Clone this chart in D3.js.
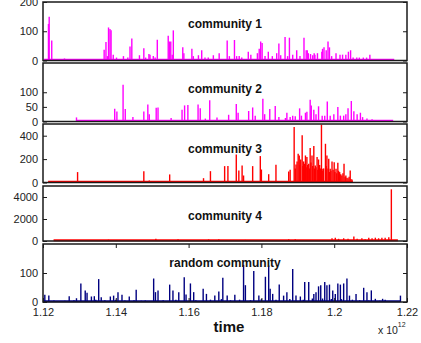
<!DOCTYPE html>
<html>
<head>
<meta charset="utf-8">
<script src="https://cdn.jsdelivr.net/npm/d3@7/dist/d3.min.js"></script>
<style>
  body { margin: 0; background: #fff; }
  svg { display: block; }
  text { font-family: Arial, "Liberation Sans", sans-serif; }
</style>
</head>
<body>
<div id="chart"></div>
<script>
// time axis is in units of 10^12
const xTicks = [1.12, 1.14, 1.16, 1.18, 1.20, 1.22];
const titles = ['community 1', 'community 2', 'community 3', 'community 4', 'random community'];
const yMax = [200, 200, 500, 5000, 200];
const yTicks = [[0, 100, 200], [0, 50, 100], [0, 200, 400], [0, 2000, 4000], [0, 100]];
// first and last time stamp of each series (drawn as the zero line)
const spans = [[1.1203, 1.2165], [1.1292, 1.2162], [1.1214, 1.2051], [1.1229, 1.2175], [1.1200, 1.2182]];

// [time, count]
const community1 = [
  [1.1215,125],[1.1217,150],[1.1224,68],[1.1259,7],[1.1270,4],[1.1294,3],
  [1.1368,37],[1.1373,63],[1.1377,15],[1.1380,113],[1.1384,108],[1.1387,103],[1.1393,20],[1.1402,10],
  [1.1421,15],[1.1433,10],[1.1439,48],[1.1444,75],[1.1453,5],[1.1465,18],[1.1477,42],[1.1482,10],
  [1.1491,22],[1.1494,20],[1.1503,15],[1.1508,10],[1.1514,71],[1.1521,5],[1.1544,85],[1.1547,65],
  [1.1551,65],[1.1555,20],[1.1558,103],[1.1572,5],[1.1584,45],[1.1587,25],[1.1609,40],[1.1613,15],
  [1.1627,18],[1.1636,35],[1.1645,10],[1.1654,10],[1.1668,18],[1.1684,25],[1.1706,68],[1.1712,15],
  [1.1726,70],[1.1732,15],[1.1739,15],[1.1746,10],[1.1764,30],[1.1771,20],[1.1789,25],[1.1794,40],
  [1.1798,65],[1.1802,60],[1.1810,15],[1.1819,30],[1.1830,15],[1.1842,25],[1.1848,58],[1.1853,18],
  [1.1865,80],[1.1872,15],[1.1877,78],[1.1886,20],[1.1897,35],[1.1906,15],[1.1917,78],[1.1923,35],
  [1.1926,35],[1.1929,25],[1.1935,22],[1.1941,18],[1.1945,25],[1.1947,20],[1.1954,25],[1.1966,30],
  [1.1968,40],[1.1972,45],[1.1978,35],[1.1983,65],[1.1987,45],[1.1993,15],[1.2005,25],[1.2016,20],
  [1.2023,20],[1.2032,20],[1.2039,30],[1.2045,35],[1.2052,10],[1.2062,10],[1.2069,10],[1.2080,10],
  [1.2089,10],[1.2098,20],[1.2112,3],[1.2133,3],[1.2153,3],[1.2162,2]
];
const community2 = [
  [1.1292,14],[1.1371,3],[1.1397,44],[1.1403,34],[1.1420,126],[1.1426,43],[1.1447,15],[1.1477,34],
  [1.1488,58],[1.1492,25],[1.1511,47],[1.1516,48],[1.1552,12],[1.1582,40],[1.1589,55],[1.1598,56],
  [1.1626,58],[1.1632,45],[1.1646,10],[1.1658,73],[1.1678,14],[1.1710,23],[1.1731,60],[1.1736,30],
  [1.1765,36],[1.1776,48],[1.1783,20],[1.1804,78],[1.1809,25],[1.1823,43],[1.1838,53],[1.1848,15],
  [1.1866,12],[1.1870,30],[1.1879,15],[1.1886,20],[1.1893,18],[1.1905,45],[1.1910,20],[1.1921,30],
  [1.1925,33],[1.1934,74],[1.1937,55],[1.1944,40],[1.1950,25],[1.1957,52],[1.1967,20],[1.1974,20],
  [1.1981,68],[1.1989,20],[1.1999,25],[1.2010,50],[1.2017,20],[1.2026,20],[1.2032,25],[1.2038,45],
  [1.2047,70],[1.2054,35],[1.2063,25],[1.2072,30],[1.2078,15],[1.2090,10],[1.2104,8],[1.2118,5]
];
const community3 = [
  [1.1295,89],[1.1435,5],[1.1477,97],[1.1492,17],[1.1548,69],[1.1641,37],[1.1660,97],[1.1699,140],
  [1.1708,140],[1.1731,240],[1.1738,103],[1.1747,146],[1.1751,60],[1.1776,140],[1.1797,226],[1.1800,111],
  [1.1820,71],[1.1840,151],[1.1875,94],[1.1879,109],[1.1890,474],[1.1893,120],[1.1895,154],[1.1898,180],
  [1.1901,246],[1.1904,231],[1.1906,150],[1.1908,197],[1.1912,403],[1.1914,140],[1.1916,180],[1.1918,160],
  [1.1921,231],[1.1923,130],[1.1925,217],[1.1927,150],[1.1930,160],[1.1932,120],[1.1934,294],[1.1936,170],
  [1.1939,231],[1.1941,140],[1.1944,311],[1.1946,120],[1.1948,146],[1.1950,130],[1.1953,217],[1.1955,110],
  [1.1957,197],[1.1960,150],[1.1962,120],[1.1965,494],[1.1967,100],[1.1969,117],[1.1971,120],[1.1976,331],
  [1.1978,140],[1.1980,231],[1.1983,120],[1.1985,203],[1.1987,90],[1.1989,117],[1.1991,100],[1.1994,180],
  [1.1997,110],[1.2000,174],[1.2002,90],[1.2005,117],[1.2007,80],[1.2010,169],[1.2012,100],[1.2015,89],
  [1.2018,70],[1.2021,60],[1.2024,80],[1.2027,160],[1.2030,50],[1.2032,60],[1.2035,40],[1.2038,37],
  [1.2041,50],[1.2044,103],[1.2046,30],[1.2049,26]
];
const community4 = [
  [1.1300,40],[1.1380,120],[1.1422,90],[1.1460,60],[1.1510,200],[1.1522,100],[1.1540,50],[1.1571,150],
  [1.1600,60],[1.1637,100],[1.1655,150],[1.1683,150],[1.1700,80],[1.1720,60],[1.1756,100],[1.1783,100],
  [1.1800,60],[1.1838,100],[1.1860,60],[1.1875,150],[1.1893,150],[1.1910,80],[1.1930,100],[1.1950,60],
  [1.1970,80],[1.1994,250],[1.2003,300],[1.2012,200],[1.2026,250],[1.2038,200],[1.2054,400],[1.2063,200],
  [1.2076,250],[1.2085,150],[1.2095,300],[1.2104,250],[1.2113,300],[1.2122,250],[1.2131,300],[1.2140,300],
  [1.2150,350],[1.2157,4700]
];
const randomCommunity = [
  [1.1205,25],[1.1216,22],[1.1230,5],[1.1260,4],[1.1272,20],[1.1285,6],[1.1292,13],[1.1304,64],
  [1.1316,40],[1.1321,32],[1.1333,19],[1.1341,20],[1.1345,8],[1.1353,79],[1.1360,16],[1.1370,6],
  [1.1385,19],[1.1394,22],[1.1400,8],[1.1406,34],[1.1417,25],[1.1425,5],[1.1437,19],[1.1450,6],
  [1.1456,42],[1.1470,4],[1.1481,5],[1.1504,81],[1.1509,34],[1.1516,40],[1.1530,6],[1.1548,60],
  [1.1557,40],[1.1565,8],[1.1573,34],[1.1588,85],[1.1593,26],[1.1605,64],[1.1614,34],[1.1620,6],
  [1.1640,46],[1.1649,28],[1.1660,8],[1.1672,22],[1.1683,36],[1.1690,10],[1.1694,84],[1.1706,22],
  [1.1715,6],[1.1727,25],[1.1740,8],[1.1751,128],[1.1756,58],[1.1770,6],[1.1779,107],[1.1793,22],
  [1.1800,10],[1.1811,87],[1.1820,126],[1.1824,46],[1.1831,28],[1.1840,8],[1.1849,60],[1.1861,22],
  [1.1870,34],[1.1878,10],[1.1886,114],[1.1895,22],[1.1907,19],[1.1915,8],[1.1919,69],[1.1930,69],
  [1.1940,12],[1.1944,28],[1.1950,34],[1.1957,54],[1.1963,58],[1.1968,12],[1.1974,69],[1.1980,58],
  [1.1987,60],[1.1992,10],[1.1996,40],[1.2003,28],[1.2010,64],[1.2017,60],[1.2020,10],[1.2026,64],
  [1.2035,81],[1.2042,22],[1.2050,8],[1.2060,28],[1.2070,6],[1.2081,49],[1.2090,34],[1.2095,5],
  [1.2102,40],[1.2113,11],[1.2125,4],[1.2133,11],[1.2140,8],[1.2150,3],[1.2165,3],[1.2182,22]
];

const seriesData = [community1, community2, community3, community4, randomCommunity];
const colors = ['#ff00ff', '#ff00ff', '#ff0000', '#ff0000', '#000080'];

const W = 421, H = 343;
const left = 43, right = 407;
// panel frames (top, bottom) and title baselines
const frames = [[2, 60.5], [63, 121.5], [124, 182.5], [186, 241], [244, 302]];
const titleY = [28, 93, 153, 219.5, 267];

const svg = d3.select('#chart').append('svg')
  .attr('width', W).attr('height', H);

const x = d3.scaleLinear().domain([1.12, 1.22]).range([left, right]);

seriesData.forEach((data, i) => {
  const [top, bottom] = frames[i];
  const y = d3.scaleLinear().domain([0, yMax[i]]).range([bottom, top]);
  const g = svg.append('g');

  // zero line over the series span
  g.append('line')
    .attr('x1', x(spans[i][0])).attr('x2', x(spans[i][1]))
    .attr('y1', y(0) - 0.8).attr('y2', y(0) - 0.8)
    .attr('stroke', colors[i]).attr('stroke-width', 2);

  // spikes
  g.selectAll('line.spike')
    .data(data)
    .enter()
    .append('line')
    .attr('class', 'spike')
    .attr('x1', d => x(d[0])).attr('x2', d => x(d[0]))
    .attr('y1', y(0)).attr('y2', d => y(d[1]))
    .attr('stroke', colors[i])
    .attr('stroke-width', 1.4);

  // box
  g.append('rect')
    .attr('x', left).attr('y', top)
    .attr('width', right - left).attr('height', bottom - top)
    .attr('fill', 'none').attr('stroke', '#1a1a1a').attr('stroke-width', 1.5);

  // y axis left with labels, right with ticks only
  const yl = g.append('g')
    .attr('transform', `translate(${left},0)`)
    .call(d3.axisLeft(y).tickValues(yTicks[i]).tickSizeInner(-4).tickSizeOuter(0).tickPadding(5)
      .tickFormat(d3.format('d')));
  yl.select('.domain').remove();
  yl.selectAll('text').attr('font-size', 11).attr('fill', '#222').style('font-family', 'Arial, "Liberation Sans", sans-serif');
  yl.selectAll('line').attr('stroke', '#1a1a1a');

  const yr = g.append('g')
    .attr('transform', `translate(${right},0)`)
    .call(d3.axisRight(y).tickValues(yTicks[i]).tickSizeInner(-4).tickSizeOuter(0).tickFormat(''));
  yr.select('.domain').remove();
  yr.selectAll('line').attr('stroke', '#1a1a1a');

  g.append('text')
    .attr('x', (left + right) / 2).attr('y', titleY[i])
    .attr('text-anchor', 'middle')
    .attr('font-size', 12).attr('font-weight', 'bold').attr('fill', '#111')
    .text(titles[i]);

  if (i === seriesData.length - 1) {
    const xb = g.append('g')
      .attr('transform', `translate(0,${bottom})`)
      .call(d3.axisBottom(x).tickValues(xTicks).tickSizeInner(-4).tickSizeOuter(0).tickPadding(6)
        .tickFormat(d => d3.format('.2f')(d).replace(/0$/, '')));
    xb.select('.domain').remove();
    xb.selectAll('text').attr('font-size', 11).attr('fill', '#222').style('font-family', 'Arial, "Liberation Sans", sans-serif');
    xb.selectAll('line').attr('stroke', '#1a1a1a');

    const xt = g.append('g')
      .attr('transform', `translate(0,${top})`)
      .call(d3.axisTop(x).tickValues(xTicks).tickSizeInner(-4).tickSizeOuter(0).tickFormat(''));
    xt.select('.domain').remove();
    xt.selectAll('line').attr('stroke', '#1a1a1a');
  }
});

svg.append('text')
  .attr('x', 229).attr('y', 331.5)
  .attr('text-anchor', 'middle')
  .attr('font-size', 15).attr('font-weight', 'bold').attr('fill', '#111')
  .text('time');

const expo = svg.append('text')
  .attr('x', 378).attr('y', 334)
  .attr('font-size', 10.5).attr('fill', '#222');
expo.append('tspan').text('x 10');
expo.append('tspan').attr('dy', -7).attr('font-size', 7).text('12');
</script>
</body>
</html>
